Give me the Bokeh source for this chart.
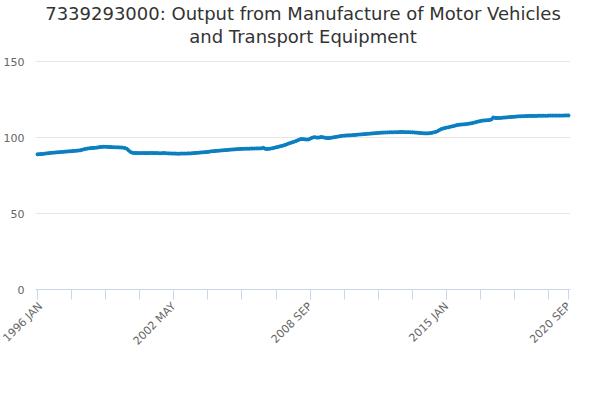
from bokeh.plotting import figure
from bokeh.models import FixedTicker, Range1d, Legend, LegendItem, ColumnDataSource, Title, Label
from bokeh.embed import file_html
from bokeh.resources import INLINE

years = list(range(1996, 2021))
months = ["JAN","FEB","MAR","APR","MAY","JUN","JUL","AUG","SEP","OCT","NOV","DEC"]
v1996 = [89.0,89.1,89.2,89.3,89.4,89.6,89.7,89.9,90.0,90.1,90.2,90.3]
v1997 = [90.4,90.5,90.6,90.7,90.8,90.9,91.0,91.1,91.2,91.3,91.4,91.5]
v1998 = [91.7,92.0,92.3,92.6,92.8,93.0,93.1,93.2,93.3,93.4,93.6,93.8]
v1999 = [93.9,94.0,94.0,93.9,93.8,93.8,93.7,93.7,93.6,93.6,93.5,93.5]
v2000 = [93.3,93.1,92.5,91.5,90.5,90.0,89.9,89.9,89.8,89.8,89.8,89.8]
v2001 = [89.8,89.8,89.8,89.9,89.9,89.8,89.8,89.8,89.7,89.7,89.8,89.8]
v2002 = [89.7,89.6,89.6,89.5,89.5,89.5,89.4,89.4,89.5,89.5,89.5,89.5]
v2003 = [89.6,89.6,89.7,89.8,89.9,90.0,90.1,90.2,90.3,90.4,90.5,90.6]
v2004 = [90.8,91.0,91.1,91.2,91.3,91.4,91.5,91.6,91.7,91.8,91.9,92.0]
v2005 = [92.1,92.2,92.3,92.4,92.5,92.5,92.6,92.6,92.7,92.7,92.7,92.8]
v2006 = [92.8,92.8,92.9,92.9,92.9,93.0,93.3,92.6,92.5,92.6,92.8,93.0]
v2007 = [93.3,93.6,93.9,94.2,94.5,94.8,95.2,95.6,96.1,96.5,96.9,97.3]
v2008 = [97.7,98.2,98.7,99.1,99.0,98.9,98.7,98.8,99.3,99.9,100.3,100.2]
v2009 = [100.0,100.1,100.4,100.3,100.0,99.8,99.7,99.8,100.0,100.2,100.4,100.6]
v2010 = [100.8,101.0,101.2,101.3,101.4,101.5,101.5,101.6,101.7,101.8,101.9,102.0]
v2011 = [102.1,102.2,102.3,102.4,102.5,102.6,102.7,102.8,102.9,103.0,103.1,103.2]
v2012 = [103.3,103.3,103.4,103.4,103.5,103.5,103.5,103.6,103.6,103.6,103.7,103.7]
v2013 = [103.7,103.6,103.6,103.6,103.5,103.5,103.4,103.3,103.2,103.1,103.0,102.9]
v2014 = [102.8,102.8,102.9,103.0,103.2,103.5,103.8,104.3,105.0,105.6,106.0,106.3]
v2015 = [106.6,106.8,107.1,107.4,107.7,108.0,108.3,108.5,108.6,108.7,108.8,108.9]
v2016 = [109.1,109.3,109.5,109.8,110.1,110.4,110.7,111.0,111.2,111.3,111.4,111.5]
v2017 = [111.6,112.0,113.3,113.0,112.9,112.9,113.0,113.1,113.2,113.3,113.4,113.5]
v2018 = [113.6,113.7,113.8,113.9,114.0,114.0,114.1,114.1,114.2,114.2,114.3,114.3]
v2019 = [114.3,114.3,114.3,114.4,114.4,114.4,114.4,114.4,114.4,114.5,114.5,114.5]
v2020 = [114.5,114.5,114.5,114.5,114.5,114.5,114.6,114.6,114.6]
blocks = [v1996,v1997,v1998,v1999,v2000,v2001,v2002,v2003,v2004,v2005,v2006,v2007,
          v2008,v2009,v2010,v2011,v2012,v2013,v2014,v2015,v2016,v2017,v2018,v2019,v2020]
values = [v for b in blocks for v in b]
labels = [f"{y} {m}" for y in years for m in months][:len(values)]
tick_labels = ["1996 JAN", "2002 MAY", "2008 SEP", "2015 JAN", "2020 SEP"]
series_name = "7339293000: Output from Manufacture of Motor Vehicles and Transport Equipment"

F = "DejaVu Sans"
xs = list(range(len(values)))
src = ColumnDataSource(dict(x=xs, y=values))
p = figure(width=584, height=384, output_backend="svg", toolbar_location=None,
           x_range=Range1d(-1, len(values)), y_range=Range1d(0, 160))
p.title.visible = False
p.add_layout(Title(text="and Transport Equipment", align="center", text_font_size="18px",
                   text_font=F, text_font_style="normal", text_color="#333333",
                   standoff=0), "above")
p.add_layout(Title(text="7339293000: Output from Manufacture of Motor Vehicles", align="center",
                   text_font_size="18px", text_font=F, text_font_style="normal",
                   text_color="#333333", standoff=0), "above")
r1 = p.line("x", "y", source=src, line_color="#0a7fc1", line_width=2.5)
r2 = p.scatter("x", "y", source=src, size=3, color="#0a7fc1")
p.outline_line_color = None
p.min_border_left = 35
p.min_border_right = 14
p.min_border_bottom = 95
p.min_border_top = 10
major = [labels.index(t) for t in tick_labels]
p.xaxis.ticker = FixedTicker(ticks=major, minor_ticks=list(range(0, len(values), 19)))
p.xaxis.major_label_overrides = {i: labels[i] for i in major}
p.xaxis.major_label_orientation = 0.785
p.xaxis.axis_line_color = "#ccd6eb"
p.xaxis.major_tick_line_color = "#ccd6eb"
p.xaxis.minor_tick_line_color = "#ccd6eb"
p.xaxis.minor_tick_out = 10
p.xaxis.major_tick_out = 10
p.xaxis.major_tick_in = 0
p.xaxis.minor_tick_in = 0
p.xaxis.major_label_text_color = "#666666"
p.xaxis.major_label_text_font = F
p.xaxis.major_label_text_font_size = "11px"
p.xgrid.grid_line_color = None
p.yaxis.ticker = FixedTicker(ticks=[0, 50, 100, 150])
p.yaxis.axis_line_color = None
p.yaxis.major_tick_line_color = None
p.yaxis.minor_tick_line_color = None
p.yaxis.major_label_text_color = "#666666"
p.yaxis.major_label_text_font = F
p.yaxis.major_label_text_font_size = "11px"
p.ygrid.grid_line_color = "#e6e6e6"
leg = Legend(items=[LegendItem(label=series_name, renderers=[r1, r2])],
             location=(-35, -77), orientation="horizontal", border_line_color=None,
             background_fill_alpha=0,
             label_text_font=F, label_text_font_size="12px", label_text_font_style="bold",
             label_text_color="#333333", padding=0, margin=0, glyph_width=16,
             label_standoff=4)
p.add_layout(leg, "center")
p.add_layout(Label(x=548, y=-92, x_units="screen", y_units="screen", text="Source:",
                   text_font=F, text_font_size="12px", text_color="#666666",
                   text_align="right"))
open("out.html", "w").write(file_html(p, INLINE))
